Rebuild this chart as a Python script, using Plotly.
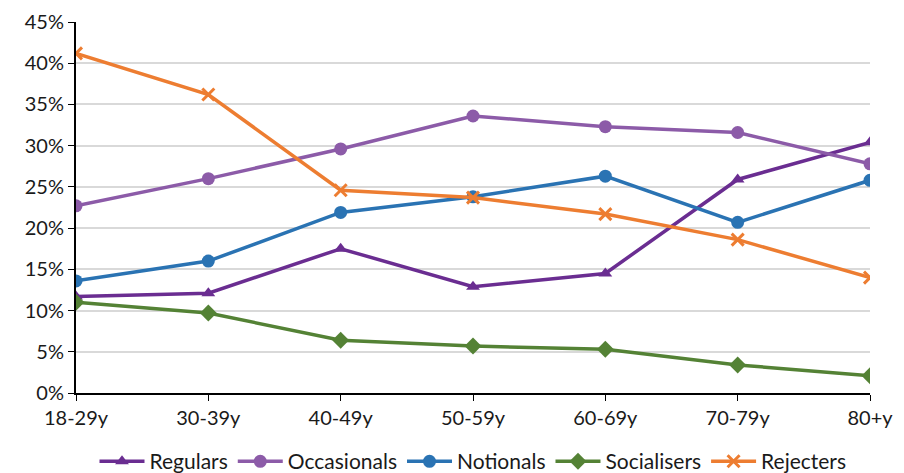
import plotly.graph_objects as go

categories = ["18-29y", "30-39y", "40-49y", "50-59y", "60-69y", "70-79y", "80+y"]
regulars = [11.7, 12.1, 17.5, 12.9, 14.5, 25.9, 30.4]
occasionals = [22.7, 26.0, 29.6, 33.6, 32.3, 31.6, 27.8]
notionals = [13.6, 16.0, 21.9, 23.8, 26.3, 20.7, 25.8]
socialisers = [11.0, 9.7, 6.4, 5.7, 5.3, 3.4, 2.1]
rejecters = [41.2, 36.2, 24.6, 23.7, 21.7, 18.6, 14.0]

series = [
    ("Regulars", regulars, "#6A2D91", "triangle-up", 12),
    ("Occasionals", occasionals, "#8C5BA8", "circle", 13),
    ("Notionals", notionals, "#2A73B3", "circle", 13),
    ("Socialisers", socialisers, "#548235", "diamond", 13),
    ("Rejecters", rejecters, "#ED7D31", "x-thin", 12),
]

fig = go.Figure()
xs = list(range(len(categories)))
for name, vals, color, sym, sz in series:
    marker = dict(symbol=sym, size=sz, color=color)
    if sym == "x-thin":
        marker["line"] = dict(color=color, width=3)
    fig.add_trace(go.Scatter(
        x=xs, y=[v / 100 for v in vals], name=name, mode="lines+markers",
        line=dict(color=color, width=3.5), marker=marker,
    ))

fig.update_layout(
    width=904, height=473,
    margin=dict(l=76, r=34, t=22, b=80, autoexpand=False),
    paper_bgcolor="white", plot_bgcolor="white",
    font=dict(family="Lato, Carlito, Arial", size=20, color="#1a1a1a"),
    legend=dict(orientation="h", x=0.5, xanchor="center", y=-0.185, yanchor="middle",
                font=dict(size=21), itemwidth=45, tracegroupgap=0),
    showlegend=True,
)
fig.update_xaxes(
    tickmode="array", tickvals=xs, ticktext=categories,
    range=[0, 6], showline=True, linecolor="black", linewidth=2,
    ticks="outside", ticklen=6, tickcolor="black", showgrid=False, zeroline=False,
    automargin=False,
)
fig.update_yaxes(
    range=[0, 0.45], tickformat=".0%", dtick=0.05,
    showline=True, linecolor="black", linewidth=2,
    ticks="outside", ticklen=6, tickcolor="black",
    showgrid=True, gridcolor="#D9D9D9", gridwidth=1.5, zeroline=False,
    automargin=False,
)
fig.write_html("out.html", config={"displayModeBar": False},
               post_script="document.body.style.margin='0px';document.body.style.overflow='hidden';")
